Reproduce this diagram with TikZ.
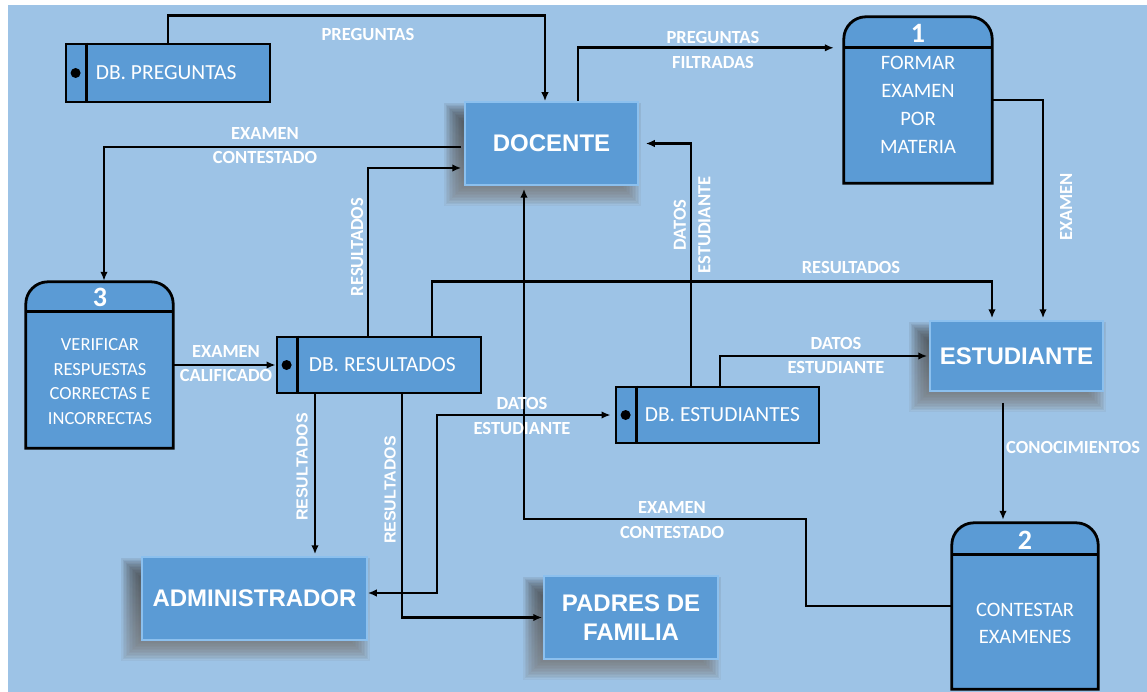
\documentclass[tikz,border=0pt]{standalone}
\usepackage{fontspec}
\setmainfont{Carlito}
\newfontfamily\arialfont{Liberation Sans}
\usetikzlibrary{arrows.meta,calc,backgrounds}
\definecolor{bgblue}{HTML}{9DC3E6}
\definecolor{boxfill}{HTML}{5B9BD5}
\definecolor{bevel}{HTML}{8CC0EE}
\definecolor{shade}{HTML}{1F2F40}

\tikzset{
  entity/.style={fill=boxfill, draw=bevel, line width=1.5pt, text=white,
    font=\arialfont\bfseries\fontsize{24}{29}\selectfont, align=center, inner sep=0pt},
  store/.style={fill=boxfill, draw=black, line width=2.8pt, inner sep=0pt},
  storetxt/.style={text=white, font=\fontsize{21.5}{24}\selectfont, anchor=west, inner sep=0pt},
  procarea/.style={inner sep=0pt},
  procline/.style={fill=boxfill, draw=black, line width=2.8pt},
  procnum/.style={text=white, font=\bfseries\fontsize{28}{30}\selectfont, inner sep=0pt},
  proctxt/.style={text=white, align=center, inner sep=0pt},
  flow/.style={line width=2.6pt, -{Latex[length=9pt,width=7.5pt]}},
  flowboth/.style={line width=2.6pt, {Latex[length=9pt,width=7.5pt]}-{Latex[length=9pt,width=7.5pt]}},
  lbl/.style={text=white, font=\bfseries\fontsize{18.5}{24.5}\selectfont, align=center, inner sep=0pt},
  lblarial/.style={text=white, font=\arialfont\bfseries\fontsize{16}{18}\selectfont, inner sep=0pt, rotate=90},
}

% process symbol: rounded top, header strip with its number
\newcommand\procshape[2]{%
  \draw[procline] (#1.south west) -- ($(#1.north west)+(0,22)$)
    .. controls ($(#1.north west)+(0,10)$) and ($(#1.north west)+(10,0)$) .. ($(#1.north west)+(22,0)$)
    -- ($(#1.north east)+(-22,0)$)
    .. controls ($(#1.north east)+(-10,0)$) and ($(#1.north east)+(0,10)$) .. ($(#1.north east)+(0,22)$)
    -- (#1.south east) -- cycle;
  \draw[line width=2.8pt] ($(#1.north west)+(0,#2)$) -- ($(#1.north east)+(0,#2)$);
}

% soft drop shadow below-left of an entity box
\newcommand\softshadow[1]{%
  \foreach \e in {0,1.5,...,18}{%
    \fill[shade, opacity=0.055] ($(#1.south west)+({-2-\e},{2+\e})$) rectangle ($(#1.north east)+({-16+\e},{20-\e})$);
  }%
}

\begin{document}
\begin{tikzpicture}[x=1pt,y=-1pt]
\useasboundingbox (0,0) rectangle (1147,692);
\begin{scope}[on background layer]
  \fill[white] (0,0) rectangle (1147,692);
  \fill[bgblue] (8,5) rectangle (1147,692);
\end{scope}

% external entities
\node[entity, minimum width=173pt, minimum height=83pt] (doc) at (551.5,143.5) {DOCENTE};
\node[entity, minimum width=173pt, minimum height=70pt] (est) at (1016.5,356) {ESTUDIANTE};
\node[entity, minimum width=225pt, minimum height=83pt] (adm) at (254.5,598.5) {ADMINISTRADOR};
\node[entity, minimum width=174pt, minimum height=83pt] (pad) at (631,617.5) {PADRES DE\\FAMILIA};
\begin{scope}[on background layer]
  \softshadow{doc}
  \softshadow{est}
  \softshadow{adm}
  \softshadow{pad}
\end{scope}

% data stores
\node[store, minimum width=204pt, minimum height=58pt] (dbp) at (168,73) {};
\node[store, minimum width=204pt, minimum height=56pt] (dbr) at (379,365) {};
\node[store, minimum width=203pt, minimum height=56pt] (dbe) at (717.5,415) {};
\foreach \s in {dbp,dbr,dbe} {
  \draw[line width=2.8pt] ([xshift=22pt]\s.north west) -- ([xshift=22pt]\s.south west);
  \fill ([xshift=11pt]\s.west) circle (5pt);
}
\node[storetxt] (dbptxt) at ([xshift=31pt]dbp.west) {DB. PREGUNTAS};
\node[storetxt] (dbrtxt) at ([xshift=33pt]dbr.west) {DB. RESULTADOS};
\node[storetxt] (dbetxt) at ([xshift=30pt]dbe.west) {DB. ESTUDIANTES};

% processes
\node[procarea, minimum width=148pt, minimum height=166pt] (p1) at (918,100) {};
\procshape{p1}{31}
\node[procnum] (p1num) at (918,33) {1};
\node[proctxt, font=\fontsize{20.5}{28}\selectfont] (p1txt) at (918,105) {FORMAR\\EXAMEN\\POR\\MATERIA};

\node[procarea, minimum width=146pt, minimum height=166pt] (p2) at (1025,606) {};
\procshape{p2}{32}
\node[procnum] (p2num) at (1025,540) {2};
\node[proctxt, font=\fontsize{20.5}{27}\selectfont] (p2txt) at (1025,623.5) {CONTESTAR\\EXAMENES};

\node[procarea, minimum width=147pt, minimum height=166pt] (p3) at (99.5,365) {};
\procshape{p3}{30}
\node[procnum] (p3num) at (100,297) {3};
\node[proctxt, font=\fontsize{18.5}{24.5}\selectfont] (p3txt) at (100,381.5) {VERIFICAR\\RESPUESTAS\\CORRECTAS E\\INCORRECTAS};

% flows
\draw[flow] (dbp.north) -- ++(0,-27) -| ([xshift=-6.5pt]doc.north);
\node[lbl] (l1) at (368,35) {PREGUNTAS};

\draw[flow] ([xshift=26.5pt]doc.north) |- ([xshift=-10pt,yshift=-31pt]p1.north west);
\node[lbl] (l2) at (713,50) {PREGUNTAS\\FILTRADAS};

\draw[flow] (p1.east) -| ([xshift=26.5pt,yshift=2pt]est.north);
\node[lbl, rotate=90] (l3) at (1066,207) {EXAMEN};

\draw[flow] ([xshift=53pt]dbr.north) -- ++(0,-54) -| ([xshift=-24.5pt,yshift=2pt]est.north);
\node[lbl] (l4) at (851,268) {RESULTADOS};

\draw[flow] ([xshift=2.5pt]dbe.north) |- ([xshift=-2pt]est.west);
\node[lbl] (l5) at (836,355.5) {DATOS\\ESTUDIANTE};

\draw[flow] ([xshift=-13.5pt,yshift=-11pt]est.south) -- ([xshift=-22pt,yshift=3pt]p2.north);
\node[lbl, anchor=west] (l6) at (1006,447) {CONOCIMIENTOS};

\draw[flow] (p2.west) -- (806,606) |- (524,519) -- ([xshift=-27.5pt,yshift=-3pt]doc.south);
\node[lbl] (l7) at (672,520) {EXAMEN\\CONTESTADO};

\draw[flow] ([xshift=-26.5pt]dbe.north) |- ([xshift=7pt]doc.east);
\node[lbl, rotate=90] (l8) at (692,225) {DATOS\\ESTUDIANTE};

\draw[flow] ([xshift=-11pt]dbr.north) |- ([xshift=-3pt,yshift=-24.5pt]doc.west);
\node[lbl, rotate=90] (l9) at (357,247) {RESULTADOS};

\draw[flow] ([xshift=-3pt,yshift=-3.5pt]doc.west) -| ([xshift=4.5pt,yshift=1pt]p3.north);
\node[lbl] (l10) at (265,145.5) {EXAMEN\\CONTESTADO};

\draw[flow] (p3.east) -- (dbr.west);
\node[lbl] (l11) at (226,363.5) {EXAMEN\\CALIFICADO};

\draw[flow] ([xshift=-64pt]dbr.south) -- ([xshift=60.5pt,yshift=2pt]adm.north);
\node[lblarial] (l12) at (302,467) {RESULTADOS};

\draw[flow] ([xshift=23pt]dbr.south) |- ([xshift=-1pt]pad.west);
\node[lblarial] (l13) at (390,490) {RESULTADOS};

\draw[flowboth] ([yshift=5.5pt]adm.east) -- (437,593) |- ([xshift=-4pt]dbe.west);
\node[lbl] (l14) at (522,416) {DATOS\\ESTUDIANTE};
\end{tikzpicture}
\end{document}
